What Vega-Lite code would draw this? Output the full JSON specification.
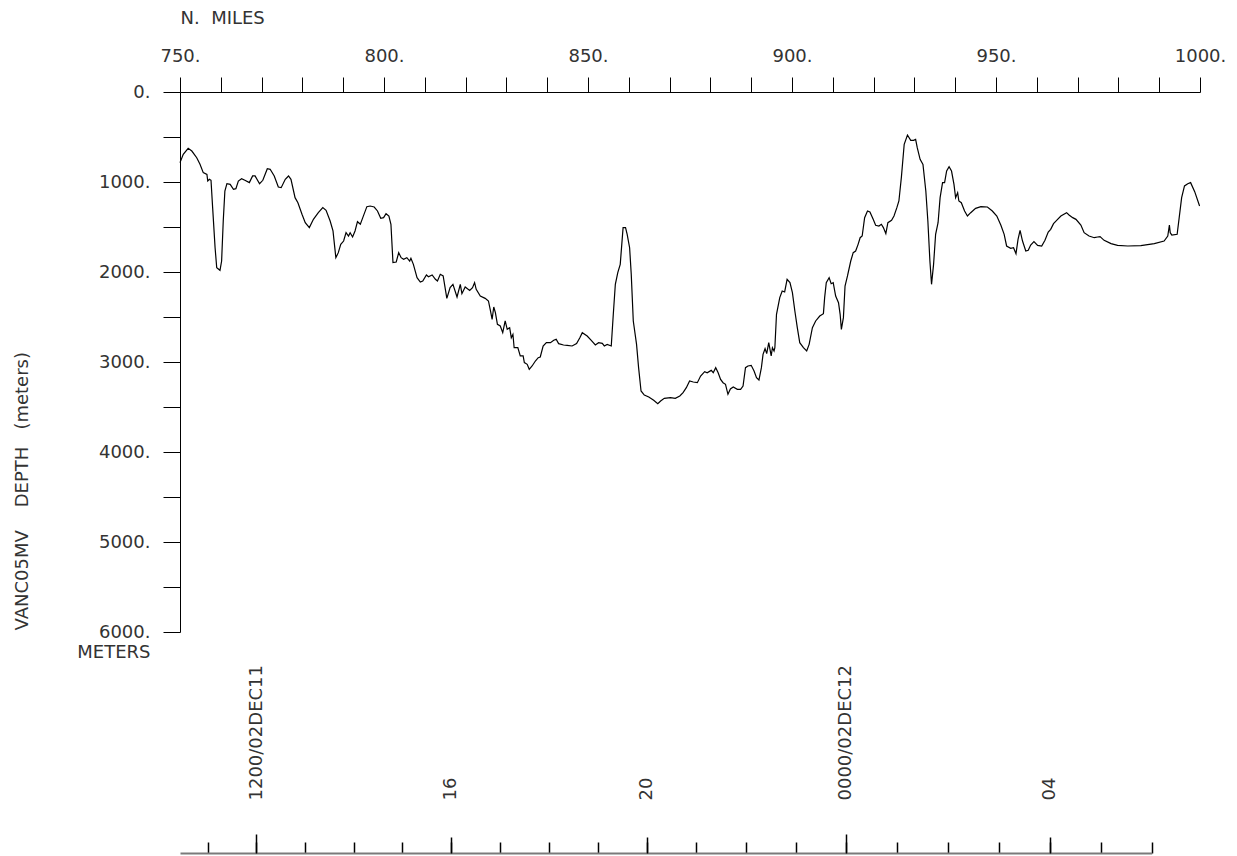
{
  "$schema": "https://vega.github.io/schema/vega-lite/v6.json",
  "width": 1020,
  "height": 540,
  "autosize": {"type": "none"},
  "padding": {"left": 180, "top": 92, "right": 37, "bottom": 224},
  "background": "white",
  "config": {
    "view": {"stroke": null},
    "font": "DejaVu Sans",
    "axis": {
      "grid": false,
      "labelFont": "DejaVu Sans",
      "labelFontSize": 18,
      "labelColor": "#333333",
      "titleFont": "DejaVu Sans",
      "titleFontSize": 18,
      "titleFontWeight": "normal",
      "titleColor": "#333333",
      "domainColor": "black",
      "tickColor": "black",
      "labelOverlap": false,
      "labelBound": false,
      "labelFlush": false
    }
  },
  "datasets": {
    "profile": [
      {"m":750.0,"d":785},{"m":750.8,"d":692},{"m":752.0,"d":626},{"m":752.9,"d":656},{"m":754.1,"d":730},{"m":754.9,"d":804},{"m":755.7,"d":896},{"m":756.6,"d":915},{"m":756.8,"d":989},{"m":757.2,"d":970},{"m":757.6,"d":981},{"m":758.0,"d":1285},{"m":758.6,"d":1730},{"m":759.0,"d":1952},{"m":759.8,"d":1981},{"m":760.2,"d":1878},{"m":760.6,"d":1433},{"m":761.0,"d":1100},{"m":761.5,"d":1019},{"m":762.3,"d":1026},{"m":763.1,"d":1081},{"m":763.7,"d":1074},{"m":764.3,"d":989},{"m":765.1,"d":963},{"m":765.9,"d":981},{"m":767.0,"d":1007},{"m":767.8,"d":933},{"m":768.4,"d":933},{"m":769.5,"d":1019},{"m":770.3,"d":981},{"m":771.4,"d":852},{"m":772.1,"d":859},{"m":773.1,"d":933},{"m":774.1,"d":1056},{"m":774.8,"d":1063},{"m":775.8,"d":970},{"m":776.6,"d":933},{"m":777.2,"d":970},{"m":778.2,"d":1174},{"m":778.9,"d":1230},{"m":779.9,"d":1359},{"m":780.7,"d":1452},{"m":781.7,"d":1507},{"m":782.7,"d":1415},{"m":783.9,"d":1341},{"m":785.0,"d":1285},{"m":785.8,"d":1315},{"m":786.8,"d":1433},{"m":787.5,"d":1544},{"m":788.2,"d":1841},{"m":788.8,"d":1785},{"m":789.4,"d":1693},{"m":790.1,"d":1656},{"m":790.7,"d":1563},{"m":791.3,"d":1600},{"m":791.7,"d":1563},{"m":792.3,"d":1611},{"m":792.9,"d":1544},{"m":793.5,"d":1441},{"m":794.2,"d":1470},{"m":794.8,"d":1396},{"m":795.8,"d":1274},{"m":796.6,"d":1267},{"m":797.6,"d":1278},{"m":798.4,"d":1322},{"m":799.2,"d":1404},{"m":799.9,"d":1396},{"m":800.5,"d":1352},{"m":801.2,"d":1378},{"m":801.7,"d":1470},{"m":802.2,"d":1896},{"m":803.0,"d":1889},{"m":803.6,"d":1785},{"m":804.2,"d":1841},{"m":804.8,"d":1859},{"m":805.6,"d":1841},{"m":806.3,"d":1878},{"m":806.6,"d":1848},{"m":807.2,"d":1915},{"m":808.1,"d":2063},{"m":808.9,"d":2111},{"m":809.5,"d":2100},{"m":810.4,"d":2033},{"m":810.9,"d":2052},{"m":811.8,"d":2033},{"m":812.6,"d":2081},{"m":813.1,"d":2100},{"m":813.8,"d":2026},{"m":814.5,"d":2044},{"m":815.4,"d":2293},{"m":816.2,"d":2174},{"m":816.9,"d":2137},{"m":817.9,"d":2278},{"m":818.7,"d":2137},{"m":819.1,"d":2241},{"m":819.9,"d":2167},{"m":821.0,"d":2204},{"m":821.7,"d":2174},{"m":822.2,"d":2118},{"m":822.6,"d":2193},{"m":823.6,"d":2267},{"m":824.8,"d":2293},{"m":825.6,"d":2322},{"m":826.1,"d":2433},{"m":826.5,"d":2526},{"m":826.9,"d":2389},{"m":827.3,"d":2452},{"m":827.8,"d":2581},{"m":828.5,"d":2600},{"m":829.1,"d":2674},{"m":829.7,"d":2544},{"m":830.2,"d":2637},{"m":830.8,"d":2619},{"m":831.2,"d":2730},{"m":831.6,"d":2693},{"m":831.9,"d":2841},{"m":832.8,"d":2841},{"m":833.4,"d":2933},{"m":834.1,"d":2933},{"m":834.4,"d":3007},{"m":835.1,"d":3026},{"m":835.6,"d":3081},{"m":836.3,"d":3044},{"m":837.1,"d":2989},{"m":837.8,"d":2952},{"m":838.3,"d":2944},{"m":839.0,"d":2822},{"m":839.8,"d":2785},{"m":840.8,"d":2785},{"m":841.6,"d":2759},{"m":842.2,"d":2748},{"m":842.8,"d":2796},{"m":844.0,"d":2811},{"m":844.9,"d":2815},{"m":846.1,"d":2822},{"m":847.2,"d":2796},{"m":848.0,"d":2730},{"m":848.6,"d":2674},{"m":849.8,"d":2711},{"m":850.8,"d":2759},{"m":851.8,"d":2811},{"m":852.6,"d":2785},{"m":853.5,"d":2793},{"m":854.0,"d":2822},{"m":854.7,"d":2804},{"m":855.7,"d":2822},{"m":856.2,"d":2470},{"m":856.7,"d":2137},{"m":857.3,"d":2007},{"m":857.9,"d":1915},{"m":858.6,"d":1507},{"m":859.2,"d":1507},{"m":859.6,"d":1581},{"m":860.2,"d":1730},{"m":860.6,"d":2026},{"m":861.1,"d":2544},{"m":861.9,"d":2804},{"m":862.4,"d":3063},{"m":863.0,"d":3322},{"m":863.8,"d":3367},{"m":864.9,"d":3389},{"m":866.1,"d":3426},{"m":867.1,"d":3463},{"m":867.8,"d":3433},{"m":868.7,"d":3404},{"m":870.2,"d":3396},{"m":871.4,"d":3404},{"m":872.5,"d":3378},{"m":873.3,"d":3341},{"m":874.1,"d":3285},{"m":874.9,"d":3211},{"m":875.8,"d":3222},{"m":876.8,"d":3230},{"m":877.6,"d":3156},{"m":878.6,"d":3107},{"m":879.2,"d":3119},{"m":880.2,"d":3093},{"m":880.7,"d":3119},{"m":881.3,"d":3063},{"m":881.9,"d":3119},{"m":882.5,"d":3193},{"m":883.1,"d":3230},{"m":883.7,"d":3248},{"m":884.3,"d":3359},{"m":884.9,"d":3300},{"m":885.6,"d":3278},{"m":886.6,"d":3304},{"m":887.4,"d":3304},{"m":888.0,"d":3267},{"m":888.6,"d":3063},{"m":889.2,"d":3044},{"m":890.0,"d":3037},{"m":890.7,"d":3100},{"m":891.3,"d":3174},{"m":891.9,"d":3200},{"m":892.5,"d":3063},{"m":892.9,"d":2915},{"m":893.4,"d":2852},{"m":893.8,"d":2907},{"m":894.3,"d":2785},{"m":894.9,"d":2933},{"m":895.2,"d":2841},{"m":895.6,"d":2878},{"m":895.8,"d":2841},{"m":896.2,"d":2470},{"m":897.0,"d":2285},{"m":897.6,"d":2211},{"m":898.2,"d":2222},{"m":898.8,"d":2081},{"m":899.5,"d":2118},{"m":900.1,"d":2230},{"m":900.7,"d":2433},{"m":901.3,"d":2619},{"m":901.9,"d":2785},{"m":902.8,"d":2841},{"m":903.6,"d":2878},{"m":904.2,"d":2804},{"m":905.0,"d":2619},{"m":905.8,"d":2544},{"m":906.8,"d":2489},{"m":907.7,"d":2463},{"m":908.0,"d":2285},{"m":908.4,"d":2118},{"m":909.1,"d":2063},{"m":909.6,"d":2130},{"m":910.1,"d":2118},{"m":910.7,"d":2267},{"m":911.4,"d":2341},{"m":911.8,"d":2470},{"m":912.1,"d":2637},{"m":912.6,"d":2507},{"m":913.0,"d":2156},{"m":913.6,"d":2044},{"m":914.4,"d":1878},{"m":915.0,"d":1785},{"m":915.6,"d":1767},{"m":916.2,"d":1693},{"m":916.7,"d":1619},{"m":917.2,"d":1600},{"m":917.8,"d":1396},{"m":918.5,"d":1322},{"m":919.1,"d":1333},{"m":919.9,"d":1415},{"m":920.5,"d":1481},{"m":921.3,"d":1489},{"m":921.9,"d":1470},{"m":922.4,"d":1507},{"m":923.0,"d":1574},{"m":923.5,"d":1452},{"m":924.4,"d":1426},{"m":925.0,"d":1378},{"m":925.7,"d":1285},{"m":926.2,"d":1211},{"m":926.8,"d":952},{"m":927.5,"d":581},{"m":928.3,"d":478},{"m":929.1,"d":537},{"m":929.8,"d":537},{"m":930.3,"d":526},{"m":930.7,"d":619},{"m":931.4,"d":748},{"m":932.1,"d":804},{"m":932.8,"d":1100},{"m":933.3,"d":1433},{"m":933.8,"d":1878},{"m":934.2,"d":2137},{"m":934.7,"d":1915},{"m":935.2,"d":1581},{"m":935.8,"d":1452},{"m":936.3,"d":1174},{"m":936.9,"d":1007},{"m":937.4,"d":1007},{"m":937.9,"d":878},{"m":938.5,"d":830},{"m":939.1,"d":878},{"m":939.7,"d":1026},{"m":940.1,"d":1174},{"m":940.6,"d":1119},{"m":940.9,"d":1211},{"m":941.5,"d":1230},{"m":942.3,"d":1322},{"m":943.0,"d":1378},{"m":943.8,"d":1341},{"m":945.0,"d":1293},{"m":946.3,"d":1274},{"m":947.9,"d":1278},{"m":949.1,"d":1322},{"m":950.2,"d":1378},{"m":951.2,"d":1480},{"m":952.0,"d":1581},{"m":952.6,"d":1711},{"m":953.6,"d":1737},{"m":954.3,"d":1730},{"m":954.9,"d":1796},{"m":955.4,"d":1637},{"m":955.9,"d":1537},{"m":956.5,"d":1656},{"m":957.3,"d":1767},{"m":957.9,"d":1759},{"m":958.5,"d":1700},{"m":959.3,"d":1663},{"m":960.2,"d":1704},{"m":961.2,"d":1711},{"m":962.0,"d":1648},{"m":962.8,"d":1556},{"m":963.4,"d":1526},{"m":964.1,"d":1463},{"m":965.1,"d":1415},{"m":965.9,"d":1378},{"m":967.3,"d":1341},{"m":967.9,"d":1367},{"m":968.8,"d":1396},{"m":969.6,"d":1415},{"m":970.8,"d":1478},{"m":971.6,"d":1563},{"m":972.8,"d":1600},{"m":974.1,"d":1619},{"m":974.9,"d":1611},{"m":975.5,"d":1607},{"m":976.5,"d":1648},{"m":978.2,"d":1685},{"m":979.8,"d":1704},{"m":982.3,"d":1711},{"m":985.5,"d":1707},{"m":988.8,"d":1685},{"m":991.2,"d":1656},{"m":992.1,"d":1600},{"m":992.5,"d":1478},{"m":992.7,"d":1563},{"m":993.1,"d":1589},{"m":994.4,"d":1581},{"m":994.9,"d":1396},{"m":995.5,"d":1174},{"m":996.2,"d":1044},{"m":997.0,"d":1019},{"m":997.7,"d":1007},{"m":998.7,"d":1107},{"m":999.9,"d":1267}
    ],
    "hours": [{"hr": 10.43}, {"hr": 30}]
  },
  "layer": [
    {
      "data": {"name": "profile"},
      "mark": {"type": "line", "color": "black", "strokeWidth": 1.2, "interpolate": "linear"},
      "encoding": {
        "x": {
          "field": "m", "type": "quantitative",
          "scale": {"domain": [750, 1000], "nice": false, "zero": false},
          "axis": {
            "orient": "top",
            "values": [750,760,770,780,790,800,810,820,830,840,850,860,870,880,890,900,910,920,930,940,950,960,970,980,990,1000],
            "tickSize": 15,
            "labelPadding": 12,
            "labelExpr": "datum.value % 50 == 0 ? datum.value + '.' : ''",
            "title": "N.\u00a0\u00a0MILES",
            "titleX": 0,
            "titleY": -69,
            "titleAlign": "left",
            "titleAnchor": "start",
            "titleBaseline": "alphabetic",
            "titleAngle": 0
          }
        },
        "y": {
          "field": "d", "type": "quantitative",
          "scale": {"domain": [0, 6000], "reverse": true, "nice": false, "zero": false},
          "axis": {
            "orient": "left",
            "values": [0,500,1000,1500,2000,2500,3000,3500,4000,4500,5000,5500,6000],
            "tickSize": 17,
            "labelPadding": 13,
            "labelLineHeight": 20,
            "labelExpr": "datum.value == 6000 ? ['6000.', 'METERS'] : (datum.value % 1000 == 0 ? datum.value + '.' : '')",
            "title": "VANC05MV\u00a0\u00a0\u00a0\u00a0DEPTH\u00a0\u00a0\u00a0(meters)",
            "titleAngle": 270,
            "titleX": -158,
            "titleY": 538,
            "titleAlign": "left",
            "titleBaseline": "middle"
          }
        }
      }
    },
    {
      "data": {"name": "hours"},
      "mark": {"type": "point", "opacity": 0},
      "encoding": {
        "x": {
          "field": "hr", "type": "quantitative",
          "scale": {"domain": [10.43, 11, 16, 20, 24, 27, 30], "range": [0, 27.7, 270.7, 466.7, 665.7, 818.7, 971.7], "nice": false, "zero": false},
          "axis": {
            "orient": "top",
            "offset": -761,
            "values": [11,12,13,14,15,16,17,18,19,20,21,22,23,24,25,26,27,28,29,30],
            "tickSize": 11,
            "tickWidth": 1.5,
            "labels": false,
            "domainColor": "#7a7a7a",
            "domainWidth": 2,
            "title": null
          }
        }
      }
    },
    {
      "data": {"name": "hours"},
      "mark": {"type": "point", "opacity": 0},
      "encoding": {
        "x": {
          "field": "hr", "type": "quantitative",
          "scale": {"domain": [10.43, 11, 16, 20, 24, 27, 30], "range": [0, 27.7, 270.7, 466.7, 665.7, 818.7, 971.7], "nice": false, "zero": false},
          "axis": {
            "orient": "top",
            "offset": -761,
            "values": [16, 20, 28],
            "tickSize": 16,
            "tickWidth": 1.5,
            "domain": false,
            "labelAngle": 270,
            "labelAlign": "left",
            "labelBaseline": "middle",
            "labelPadding": 37,
            "labelExpr": "datum.value == 16 ? '16' : datum.value == 20 ? '20' : '04'",
            "title": null
          }
        }
      }
    },
    {
      "data": {"name": "hours"},
      "mark": {"type": "point", "opacity": 0},
      "encoding": {
        "x": {
          "field": "hr", "type": "quantitative",
          "scale": {"domain": [10.43, 11, 16, 20, 24, 27, 30], "range": [0, 27.7, 270.7, 466.7, 665.7, 818.7, 971.7], "nice": false, "zero": false},
          "axis": {
            "orient": "top",
            "offset": -761,
            "values": [12, 24],
            "tickSize": 19,
            "tickWidth": 1.5,
            "domain": false,
            "labelAngle": 270,
            "labelAlign": "left",
            "labelBaseline": "middle",
            "labelPadding": 34,
            "labelExpr": "datum.value == 12 ? '1200/02DEC11' : '0000/02DEC12'",
            "title": null
          }
        }
      }
    }
  ],
  "resolve": {"scale": {"x": "independent"}, "axis": {"x": "independent"}}
}
